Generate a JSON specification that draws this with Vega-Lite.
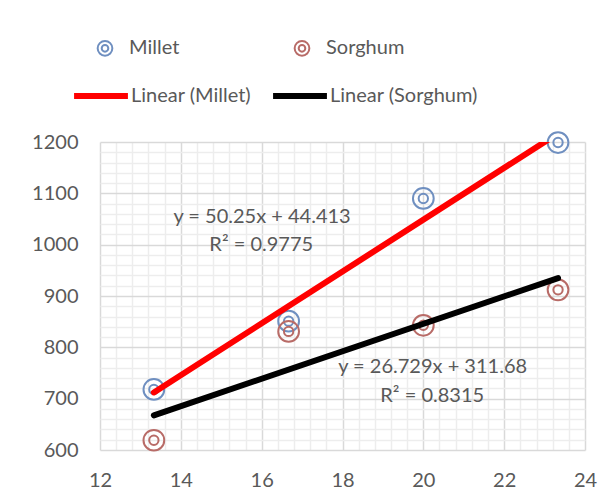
{
  "$schema": "https://vega.github.io/schema/vega-lite/v6.json",
  "width": 485,
  "height": 308,
  "autosize": {"type": "none"},
  "padding": {"left": 100, "top": 142, "right": 28, "bottom": 54},
  "background": "white",
  "config": {
    "view": {"stroke": null},
    "font": "Lato",
    "legend": {"padding": 0}
  },
  "datasets": {
    "points": [
      {"series": "Millet", "x": 13.333, "y": 718},
      {"series": "Millet", "x": 16.667, "y": 851},
      {"series": "Millet", "x": 20, "y": 1090},
      {"series": "Millet", "x": 23.333, "y": 1199},
      {"series": "Sorghum", "x": 13.333, "y": 619},
      {"series": "Sorghum", "x": 16.667, "y": 831},
      {"series": "Sorghum", "x": 20, "y": 843},
      {"series": "Sorghum", "x": 23.333, "y": 912}
    ],
    "notes": [
      {"x": 16.01, "y": 1054, "label": "y = 50.25x + 44.413"},
      {"x": 15.99, "y": 999, "label": "R² = 0.9775"},
      {"x": 20.23, "y": 762, "label": "y = 26.729x + 311.68"},
      {"x": 20.22, "y": 705, "label": "R² = 0.8315"}
    ]
  },
  "layer": [
    {
      "data": {"name": "points"},
      "mark": {
        "type": "point",
        "filled": false,
        "shape": "M-1,0A1,1 0 1,0 1,0A1,1 0 1,0 -1,0ZM-0.45,0A0.45,0.45 0 1,0 0.45,0A0.45,0.45 0 1,0 -0.45,0Z",
        "size": 430,
        "strokeWidth": 2,
        "opacity": 1
      },
      "encoding": {
        "x": {
          "field": "x", "type": "quantitative",
          "scale": {"domain": [12, 24], "nice": false, "zero": false},
          "axis": {
            "values": [12, 14, 16, 18, 20, 22, 24],
            "grid": true, "gridColor": "#d9d9d9", "gridWidth": 1.5,
            "ticks": false, "domain": false, "title": null,
            "labelFont": "Lato", "labelFontSize": 20, "labelColor": "#595959",
            "labelPadding": 20, "labelFlush": false, "labelOverlap": false, "zindex": 0
          }
        },
        "y": {
          "field": "y", "type": "quantitative",
          "scale": {"domain": [600, 1200], "nice": false, "zero": false},
          "axis": {
            "values": [600, 700, 800, 900, 1000, 1100, 1200],
            "format": "d",
            "grid": true, "gridColor": "#d9d9d9", "gridWidth": 1.5,
            "ticks": false, "domain": false, "title": null,
            "labelFont": "Lato", "labelFontSize": 20, "labelColor": "#595959",
            "labelPadding": 22, "labelFlush": false, "labelOverlap": false, "zindex": 0
          }
        },
        "color": {
          "field": "series", "type": "nominal",
          "scale": {"domain": ["Millet", "Sorghum"], "range": ["#6f8fc0", "#b86b67"]},
          "legend": {
            "orient": "none", "legendX": -5, "legendY": -104,
            "direction": "horizontal", "title": null,
            "symbolType": "M-1,0A1,1 0 1,0 1,0A1,1 0 1,0 -1,0ZM-0.45,0A0.45,0.45 0 1,0 0.45,0A0.45,0.45 0 1,0 -0.45,0Z",
            "symbolSize": 216, "symbolStrokeWidth": 2, "symbolFillColor": "transparent",
            "labelFont": "Lato", "labelFontSize": 20, "labelColor": "#595959",
            "labelOffset": 14, "columnPadding": 110
          }
        }
      }
    },
    {
      "data": {"name": "points"},
      "transform": [
        {"regression": "y", "on": "x", "groupby": ["series"], "method": "linear", "extent": [13.333, 23.333]}
      ],
      "mark": {"type": "line", "strokeWidth": 6, "strokeCap": "round", "clip": true},
      "encoding": {
        "x": {
          "field": "x", "type": "quantitative",
          "axis": {
            "values": [12.4, 12.8, 13.2, 13.6, 14.4, 14.8, 15.2, 15.6, 16.4, 16.8, 17.2, 17.6, 18.4, 18.8, 19.2, 19.6, 20.4, 20.8, 21.2, 21.6, 22.4, 22.8, 23.2, 23.6],
            "grid": true, "gridColor": "#ededed", "gridWidth": 1.5,
            "ticks": false, "domain": false, "labels": false, "title": null, "zindex": 0
          }
        },
        "y": {
          "field": "y", "type": "quantitative",
          "axis": {
            "values": [620, 640, 660, 680, 720, 740, 760, 780, 820, 840, 860, 880, 920, 940, 960, 980, 1020, 1040, 1060, 1080, 1120, 1140, 1160, 1180],
            "grid": true, "gridColor": "#ededed", "gridWidth": 1.5,
            "ticks": false, "domain": false, "labels": false, "title": null, "zindex": 0
          }
        },
        "color": {
          "field": "series", "type": "nominal",
          "scale": {"domain": ["Millet", "Sorghum"], "range": ["#ff0000", "#000000"]},
          "legend": {
            "orient": "none", "legendX": -29, "legendY": -76,
            "direction": "horizontal", "title": null,
            "symbolType": "stroke", "symbolSize": 2900, "symbolStrokeWidth": 6,
            "labelExpr": "'Linear (' + datum.label + ')'",
            "labelFont": "Lato", "labelFontSize": 20, "labelColor": "#595959",
            "labelOffset": 0, "columnPadding": 9
          }
        }
      }
    },
    {
      "data": {"name": "notes"},
      "mark": {"type": "text", "font": "Lato", "fontSize": 20, "color": "#595959", "align": "center", "baseline": "middle"},
      "encoding": {
        "x": {"field": "x", "type": "quantitative", "axis": null},
        "y": {"field": "y", "type": "quantitative", "axis": null},
        "text": {"field": "label"}
      }
    }
  ],
  "resolve": {
    "scale": {"color": "independent"},
    "axis": {"x": "independent", "y": "independent"}
  }
}
